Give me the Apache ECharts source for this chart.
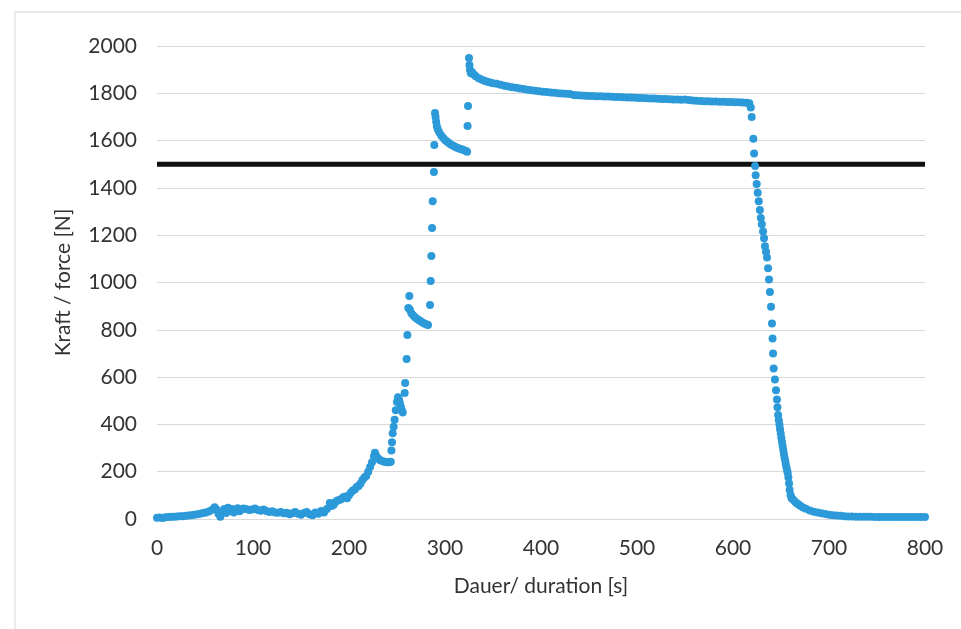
<!DOCTYPE html>
<html>
<head>
<meta charset="utf-8">
<script src="https://cdn.jsdelivr.net/npm/echarts@6/dist/echarts.min.js"></script>
<style>
  html, body { margin: 0; padding: 0; background: #fff; }
  #force-chart { width: 961px; height: 629px; }
</style>
</head>
<body>
<div id="force-chart"></div>
<script>
var restTime = [0,3,6,9,12,15,18,21,24,27,30,33,36,39,42,45,48,51,54,57,60,62,64,66,68,70,72,74,76,78,80,82,84,86,88,90,93,96,99,102,105,108,111,114,117,120,123,126,129,132,135,138,141,144,147,150,153,156,159,162,165,168,171,174,177];
var restForce = [5,6,4,7,8,9,10,11,12,12,14,15,16,18,20,22,25,28,32,38,50,40,22,10,30,42,25,48,35,42,28,38,45,33,40,44,42,38,40,44,38,35,40,34,30,33,28,26,30,24,26,20,24,30,22,18,25,30,20,16,28,22,34,28,42];

var riseTime = [180,182,184,186,188,190,192,194,196,198,200,202,204,206,208,210,212,214,216,218,220,222,224,226,227,228,230,232,234,236,238,240,242,243.5,244.2,244.8,245.5,246.5,247.5,248.7,250,251,252,253,254,255,256,258,258.5,260,260.8,261.8,262.8,263.5,265,267,269,271,273,275,277,279,281,282.3,284.4,285.1,285.8,286.5,287.2,288.5,288.9,289.6];
var riseForce = [68,55,60,72,78,80,85,92,95,88,100,112,120,125,135,140,150,165,175,182,200,220,240,265,280,270,258,250,246,243,241,240,240,242,290,325,363,390,420,460,495,515,505,490,475,460,450,533,575,677,778,892,943,885,870,860,852,846,840,835,830,826,822,820,905,1006,1112,1230,1344,1467,1581,1717];

var dwellTime = [290.2,290.8,291.5,292.5,294,296,298,300,302,304,306,308,310,312,314,316,318,320,322,323];
var dwellForce = [1700,1680,1662,1648,1635,1622,1612,1603,1596,1590,1584,1579,1575,1571,1568,1565,1562,1559,1556,1553];

var holdTime = [323.5,324,325,325.5,326,327,328,330,332,335,338,341,344,347,350,354,358,362,366,370,374,378,382,386,390,394,398,402,406,410,414,418,422,426,430,434,438,442,446,450,454,458,462,466,470,474,478,482,486,490,494,498,502,506,510,514,518,522,526,530,534,538,542,546,550,554,558,562,566,570,574,578,582,586,590,594,598,602,606,610,614,617];
var holdForce = [1662,1746,1949,1920,1899,1885,1890,1880,1872,1864,1858,1853,1849,1846,1843,1840,1836,1832,1829,1826,1823,1820,1818,1815,1813,1811,1809,1807,1805,1803,1802,1800,1799,1798,1797,1793,1792,1791,1790,1789,1789,1788,1787,1786,1786,1785,1784,1784,1783,1782,1782,1781,1780,1780,1779,1778,1778,1777,1776,1776,1775,1774,1774,1773,1774,1772,1770,1768,1767,1766,1766,1765,1765,1764,1764,1763,1763,1762,1762,1761,1760,1758];

var releaseTime = [618.5,619.5,621.2,622,623,623.6,624.7,625.7,626.8,628,629,630,631.3,632.3,633.3,634.4,635.4,636.5,637.5,638.5,639.6,640.6,641.2,641.7,642.4,643.7,644.8,645.8,646.3,647,647.7,648.4,649,649.7,650.4,651,651.7,652.4,653,653.7,654.4,655,655.7,656.4,657,657.7,658.4,659,660,661,662,664,666,668,670,673,676,680,684,688,692,696,700,704,708,712,716,720,724,728,732,736,740,744,748,752,756,760,764,768,772,776,780,784,788,792,796,800];
var releaseForce = [1740,1700,1608,1545,1493,1454,1417,1380,1344,1307,1273,1246,1216,1187,1153,1130,1106,1060,1013,960,897,827,763,700,636,590,544,505,473,440,418,398,380,362,343,326,309,292,276,260,245,232,218,205,195,175,150,123,100,88,85,76,68,62,56,49,43,36,31,27,24,21,18,16,15,14,12,11,11,10,10,9,9,9,8,8,8,8,8,8,8,8,8,8,8,8,8,8];

var limitForce = 1500;

function pairs(t, f) {
    var out = [];
    for (var i = 0; i < t.length; i++) out.push([t[i], f[i]]);
    return out;
}

var points = [].concat(
    pairs(restTime, restForce),
    pairs(riseTime, riseForce),
    pairs(dwellTime, dwellForce),
    pairs(holdTime, holdForce),
    pairs(releaseTime, releaseForce)
);

var labelFont = "Lato, 'Open Sans', sans-serif";
var textColor = "#333";
var dom = document.getElementById("force-chart");
var myChart = echarts.init(dom);
var option = {
    animation: false,
    backgroundColor: "#fff",
    grid: { left: 157, right: 36, top: 46, bottom: 110 },
    graphic: [{
        type: "rect",
        shape: { x: 15, y: 12, width: 960, height: 630 },
        style: { fill: "none", stroke: "#e4e4e4", lineWidth: 1.5 },
        silent: true
    }],
    xAxis: {
        type: "value",
        min: 0,
        max: 800,
        interval: 100,
        name: "Dauer/ duration [s]",
        nameLocation: "middle",
        nameGap: 57,
        nameTextStyle: { fontFamily: labelFont, fontSize: 21, color: textColor },
        axisLine: { show: true, lineStyle: { color: "#d9d9d9", width: 1 } },
        axisTick: { show: false },
        splitLine: { show: false },
        axisLabel: { margin: 19, fontFamily: labelFont, fontSize: 21, color: textColor }
    },
    yAxis: {
        type: "value",
        min: 0,
        max: 2000,
        interval: 200,
        name: "Kraft / force [N]",
        nameLocation: "middle",
        nameGap: 83,
        nameTextStyle: { fontFamily: labelFont, fontSize: 21, color: textColor },
        axisLine: { show: false },
        axisTick: { show: false },
        splitLine: { lineStyle: { color: "#d9d9d9", width: 1 } },
        axisLabel: {
            margin: 20, fontFamily: labelFont, fontSize: 21, color: textColor,
            formatter: function (v) { return String(v); }
        }
    },
    series: [{
        name: "limit",
        type: "line",
        data: [[0, limitForce], [800, limitForce]],
        showSymbol: false,
        lineStyle: { color: "#111", width: 5 },
        z: 1
    }, {
        name: "Kraft",
        type: "scatter",
        data: points,
        symbolSize: 8,
        itemStyle: { color: "#2c9ad9", opacity: 1 },
        z: 3
    }]
};
myChart.setOption(option);
</script>
</body>
</html>
